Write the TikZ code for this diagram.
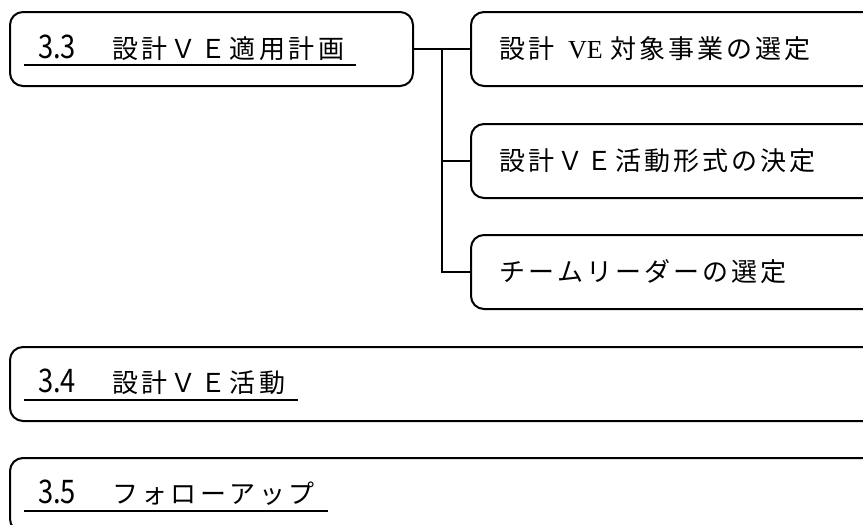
\documentclass[tikz,border=0pt]{standalone}
\usepackage{fontspec}
\usepackage{graphicx}
\newfontfamily\jpfont{Noto Sans CJK JP}
\newfontfamily\lsfont{Liberation Serif}
\newlength\lsk
\def\lsp#1{\lspi#1\relax}
\def\lspi#1{\ifx\relax#1\else#1\kern\lsk\expandafter\lspi\fi}
\newcommand\digs[1]{\scalebox{1.05}[1.25]{#1}}
\begin{document}
\begin{tikzpicture}[x=1pt,y=-1pt,line width=2pt,
  box/.style={draw, rounded corners=13pt, minimum height=74pt, inner sep=0pt},
  lbl/.style={anchor=base west, inner sep=0pt, font=\jpfont\fontsize{26}{30}\selectfont},
  uline/.style={line width=1.8pt}]
\useasboundingbox (0,0) rectangle (863,525);
\clip (0,0) rectangle (863,525);
% boxes
\node[box, minimum width=403pt] (b33) at (211.5,49) {};
\node[box, minimum width=429pt] (c1) at (685.5,49) {};
\node[box, minimum width=429pt] (c2) at (685.5,161) {};
\node[box, minimum width=429pt] (c3) at (685.5,272) {};
\node[box, minimum width=890pt] (b34) at (455,384) {};
\node[box, minimum width=890pt] (b35) at (455,495) {};
% connectors
\coordinate (j) at (442,49);
\draw (b33.east) -- (c1.west);
\draw (j) |- (c2.west);
\draw (j) |- (c3.west);
% left labels
\node[lbl] (t33) at (37,58) {\setlength\lsk{3.5pt}\makebox[74pt][l]{\digs{3.3}}\lsp{設計ＶＥ適用計画}};
\node[lbl] (t34) at (37,392.5) {\setlength\lsk{3.5pt}\makebox[74pt][l]{\digs{3.4}}\lsp{設計ＶＥ活動}};
\node[lbl] (t35) at (37,503.5) {\setlength\lsk{3.5pt}\makebox[74pt][l]{\digs{3.5}}\lsp{フォローアップ}};
\draw[uline] (24,65) -- (356,65);
\draw[uline] (24,400) -- (298,400);
\draw[uline] (24,511) -- (328,511);
% child labels
\node[lbl] (t1) at (498.5,58.5) {\setlength\lsk{3pt}\lsp{設計}\hspace{10.5pt}{\lsfont\fontsize{26}{30}\selectfont VE}\hspace{8pt}\lsp{対象事業の選定}};
\node[lbl] (t2) at (498.5,170) {\setlength\lsk{3pt}\lsp{設計ＶＥ活動形式の決定}};
\node[lbl] (t3) at (498.5,281) {\setlength\lsk{3pt}\lsp{チームリーダーの選定}};
\end{tikzpicture}
\end{document}
